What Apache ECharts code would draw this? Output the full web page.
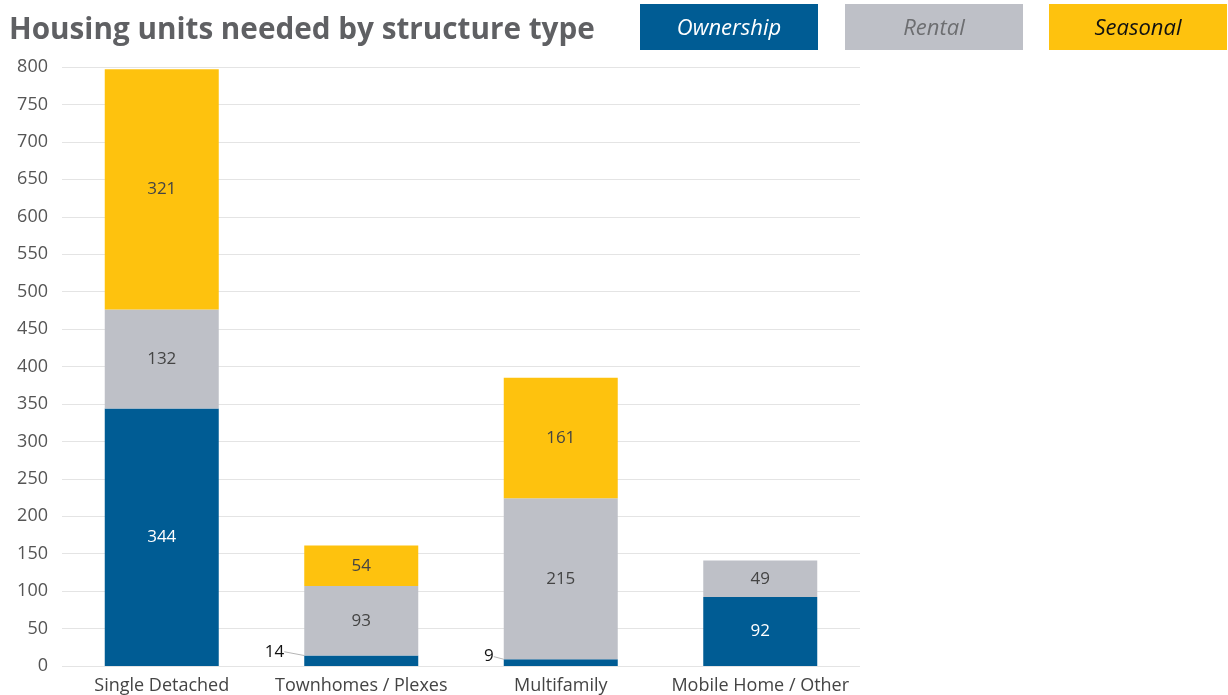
<!DOCTYPE html>
<html>
<head>
<meta charset="utf-8">
<style>
  html, body { margin: 0; padding: 0; background: #fff; }
  #chart { width: 1228px; height: 695px; }
</style>
</head>
<body>
<div id="chart"></div>
<script src="https://cdn.jsdelivr.net/npm/echarts@6/dist/echarts.min.js"></script>
<script>
const categories = ['Single Detached', 'Townhomes / Plexes', 'Multifamily', 'Mobile Home / Other'];
const ownership = [344, 14, 9, 92];
const rental = [132, 93, 215, 49];
const seasonal = [321, 54, 161, 0];
const yTicks = [0, 800, 50];

const colors = { Ownership: '#005c94', Rental: '#bec0c7', Seasonal: '#fec20e' };
const font = '"Open Sans", sans-serif';

const chart = echarts.init(document.getElementById('chart'));

// small values: label pulled out to the left, joined by a thin guide line
const smallShift = { 14: [-18, -9], 9: [-8, -6] };
function ownershipData() {
    return ownership.map(v => {
        if (v >= 30) return v;
        return {
            value: v,
            label: { position: 'left', distance: 2, color: '#111' }
        };
    });
}

function legendBox(x, name, textColor) {
    return {
        type: 'group',
        left: x,
        top: 4,
        children: [
            { type: 'rect', shape: { x: 0, y: 0, width: 178, height: 46 }, style: { fill: colors[name] } },
            {
                type: 'text', x: 89, y: 25,
                style: {
                    text: name, fill: textColor, align: 'center', verticalAlign: 'middle',
                    font: 'italic 22px ' + font
                }
            }
        ]
    };
}

chart.setOption({
    animation: false,
    title: {
        text: 'Housing units needed by structure type',
        left: 4, top: 11,
        textStyle: { fontFamily: font, fontSize: 29.7, fontWeight: 'bold', color: '#5f6063' }
    },
    graphic: [
        legendBox(640, 'Ownership', '#ffffff'),
        legendBox(845, 'Rental', '#6d6e71'),
        legendBox(1049, 'Seasonal', '#111111')
    ],
    grid: { left: 62, right: 368, top: 67, bottom: 29 },
    xAxis: {
        type: 'category',
        data: categories,
        axisLine: { show: false },
        axisTick: { show: false },
        axisLabel: { interval: 0, fontFamily: font, fontSize: 18, color: '#444', margin: 11 }
    },
    yAxis: {
        type: 'value',
        min: yTicks[0], max: yTicks[1], interval: yTicks[2],
        axisLine: { show: false },
        axisTick: { show: false },
        axisLabel: { fontFamily: font, fontSize: 18, color: '#555', margin: 14 },
        splitLine: { lineStyle: { color: '#e4e4e4' } }
    },
    series: [
        {
            name: 'Ownership', type: 'bar', stack: 'a', barWidth: 114,
            itemStyle: { color: colors.Ownership },
            label: { show: true, position: 'inside', fontFamily: font, fontSize: 17, color: '#fff' },
            labelLine: { show: true, lineStyle: { color: '#b5b5b5', width: 1 } },
            labelLayout: p => {
                const v = ownership[p.dataIndex];
                if (v >= 30) return {};
                const s = smallShift[v] || [-10, -8];
                return { dx: s[0], dy: s[1] };
            },
            data: ownershipData()
        },
        {
            name: 'Rental', type: 'bar', stack: 'a',
            itemStyle: { color: colors.Rental },
            label: { show: true, position: 'inside', fontFamily: font, fontSize: 17, color: '#444' },
            data: rental
        },
        {
            name: 'Seasonal', type: 'bar', stack: 'a',
            itemStyle: { color: colors.Seasonal },
            label: {
                show: true, position: 'inside', fontFamily: font, fontSize: 17, color: '#444',
                formatter: p => p.value ? p.value : ''
            },
            data: seasonal
        }
    ]
});
</script>
</body>
</html>
